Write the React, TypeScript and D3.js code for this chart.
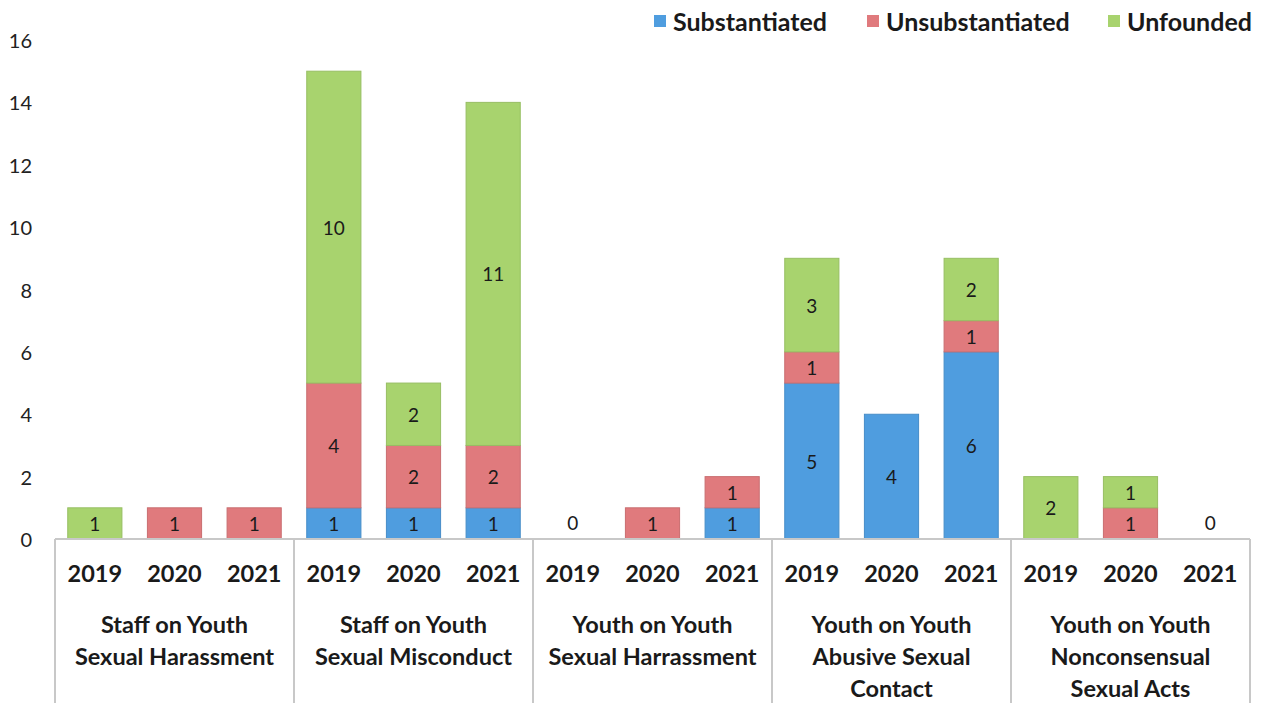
import React from 'react';
import * as d3 from 'd3';

const groups = [
  ['Staff on Youth', 'Sexual Harassment'],
  ['Staff on Youth', 'Sexual Misconduct'],
  ['Youth on Youth', 'Sexual Harrassment'],
  ['Youth on Youth', 'Abusive Sexual', 'Contact'],
  ['Youth on Youth', 'Nonconsensual', 'Sexual Acts'],
];
const years = ['2019', '2020', '2021'];
const seriesNames = ['Substantiated', 'Unsubstantiated', 'Unfounded'];
const substantiated = [0, 0, 0, 1, 1, 1, 0, 0, 1, 5, 4, 6, 0, 0, 0];
const unsubstantiated = [0, 1, 1, 4, 2, 2, 0, 1, 1, 1, 0, 1, 0, 1, 0];
const unfounded = [1, 0, 0, 10, 2, 11, 0, 0, 0, 3, 0, 2, 2, 1, 0];
const yTicks = [0, 2, 4, 6, 8, 10, 12, 14, 16];

const colors = ['#4f9ddf', '#e07a7d', '#a8d36e'];
const font = 'Lato, Carlito, "Open Sans", sans-serif';

const W = 1262;
const H = 703;
const left = 55;
const right = 1250;
const baseY = 539;

export default function App() {
  const keys = groups.flatMap((_, gi) => years.map((yr) => `${gi}-${yr}`));
  const rows = keys.map((k, i) => ({
    key: k,
    Substantiated: substantiated[i],
    Unsubstantiated: unsubstantiated[i],
    Unfounded: unfounded[i],
  }));
  const stack = d3.stack<any>().keys(seriesNames)(rows);

  const x = d3.scaleBand().domain(keys).range([left, right]).paddingInner(0.32).paddingOuter(0.16);
  const xg = d3.scaleBand().domain(groups.map((_, i) => String(i))).range([left, right]);
  const y = d3.scaleLinear().domain([0, 16]).range([baseY, 40]);

  const totals = rows.map((r) => r.Substantiated + r.Unsubstantiated + r.Unfounded);

  const legendX = [654, 867, 1108];

  return (
    <svg width={W} height={H} style={{ position: 'absolute', left: 0, top: 0, background: '#fff' }}>
      {yTicks.map((t) => (
        <text key={t} x={32} y={y(t)} textAnchor="end" dominantBaseline="central"
          fontFamily={font} fontSize={20} fill="#222">{t}</text>
      ))}

      {stack.map((s, si) => (
        <g key={s.key}>
          {s.map((d, i) => {
            const v = d[1] - d[0];
            if (v <= 0) return null;
            const bx = x(keys[i])!;
            return (
              <g key={i}>
                <rect x={bx} y={y(d[1])} width={x.bandwidth()} height={y(d[0]) - y(d[1])}
                  fill={colors[si]} stroke={d3.color(colors[si])!.darker(0.3).toString()} strokeWidth={1} />
                <text x={bx + x.bandwidth() / 2} y={(y(d[0]) + y(d[1])) / 2} textAnchor="middle"
                  dominantBaseline="central" fontFamily={font} fontSize={19} fill="#1a1a1a">{v}</text>
              </g>
            );
          })}
        </g>
      ))}

      {totals.map((t, i) => t === 0 ? (
        <text key={i} x={x(keys[i])! + x.bandwidth() / 2} y={y(0) - 17} textAnchor="middle"
          dominantBaseline="central" fontFamily={font} fontSize={19} fill="#1a1a1a">0</text>
      ) : null)}

      <line x1={left} x2={right} y1={baseY} y2={baseY} stroke="#c8c8c8" strokeWidth={2} />
      {groups.map((_, gi) => xg(String(gi))!).concat([right]).map((gx, i) => (
        <line key={i} x1={gx} x2={gx} y1={baseY} y2={H} stroke="#c8c8c8" strokeWidth={2} />
      ))}

      {keys.map((k, i) => (
        <text key={k} x={x(k)! + x.bandwidth() / 2} y={573} textAnchor="middle" dominantBaseline="central"
          fontFamily={font} fontSize={23.5} fontWeight="bold" fill="#1a1a1a">{years[i % 3]}</text>
      ))}

      {groups.map((lines, gi) => (
        <text key={gi} x={xg(String(gi))! + xg.bandwidth() / 2} textAnchor="middle"
          fontFamily={font} fontSize={23.5} fontWeight="bold" fill="#1a1a1a">
          {lines.map((ln, li) => (
            <tspan key={li} x={xg(String(gi))! + xg.bandwidth() / 2} y={624 + li * 32} dominantBaseline="central">{ln}</tspan>
          ))}
        </text>
      ))}

      {seriesNames.map((n, i) => (
        <g key={n}>
          <rect x={legendX[i]} y={15} width={12} height={12} fill={colors[i]} />
          <text x={legendX[i] + 19} y={21} dominantBaseline="central" fontFamily={font}
            fontSize={25} fontWeight="bold" fill="#1a1a1a">{n}</text>
        </g>
      ))}
    </svg>
  );
}
